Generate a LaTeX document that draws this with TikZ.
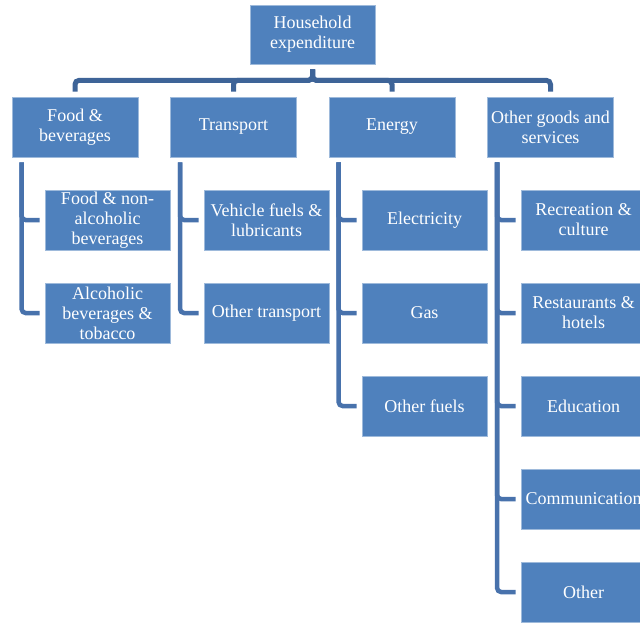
\documentclass[tikz,border=0pt]{standalone}
\usepackage{fontspec}
\setmainfont{Liberation Serif}
\definecolor{boxblue}{RGB}{79,129,189}
\definecolor{busblue}{RGB}{62,100,152}
\definecolor{subblue}{RGB}{72,114,172}
\tikzset{
  box/.style={draw=boxblue!55!white, line width=0.8pt, fill=boxblue, text=white,
    minimum width=125pt, minimum height=60pt, inner sep=0pt, align=center,
    font=\fontsize{18}{20}\selectfont},
  bus/.style={draw=busblue, line width=5pt, rounded corners=4pt, shorten >=5pt, shorten <=5pt},
  sub/.style={draw=subblue, line width=4.5pt, rounded corners=4pt, shorten >=5pt, shorten <=5pt},
}
\begin{document}
\begin{tikzpicture}[x=1pt,y=-1pt]
\useasboundingbox (0,0) rectangle (640,626);
\clip (0,0) rectangle (640,626);
% top
\node[box, minimum height=59pt] (top) at (312.5,34.5) {Household\\expenditure};
% level 1
\node[box, minimum width=126pt] (food) at (75,127) {Food \&\\beverages};
\node[box, minimum width=126pt] (trans) at (233.5,127) {Transport};
\node[box, minimum width=126pt] (energy) at (392,127) {Energy};
\node[box, minimum width=126pt] (other) at (550.5,127) {Other goods and\\services};
% level 2
\node[box] (f1) at (107.5,220) {Food \& non-\\alcoholic\\beverages};
\node[box] (f2) at (107.5,313) {Alcoholic\\beverages \&\\tobacco};
\node[box] (t1) at (266.5,220) {Vehicle fuels \&\\lubricants};
\node[box] (t2) at (266.5,313) {Other transport};
\node[box] (e1) at (424.5,220) {Electricity};
\node[box] (e2) at (424.5,313) {Gas};
\node[box] (e3) at (424.5,406) {Other fuels};
\node[box] (o1) at (583.5,220) {Recreation \&\\culture};
\node[box] (o2) at (583.5,313) {Restaurants \&\\hotels};
\node[box] (o3) at (583.5,406) {Education};
\node[box] (o4) at (583.5,499) {Communication};
\node[box] (o5) at (583.5,592) {Other};
% bus connectors
\foreach \c in {food,trans,energy,other}
  \draw[bus] (top.south) -- ++(0,16) -| (\c.north);
% sub connectors
\foreach \p/\c in {food/f1,food/f2,trans/t1,trans/t2,energy/e1,energy/e2,energy/e3,other/o1,other/o2,other/o3,other/o4,other/o5}
  \draw[sub] ([xshift=10pt]\p.south west) |- (\c.west);
\end{tikzpicture}
\end{document}
